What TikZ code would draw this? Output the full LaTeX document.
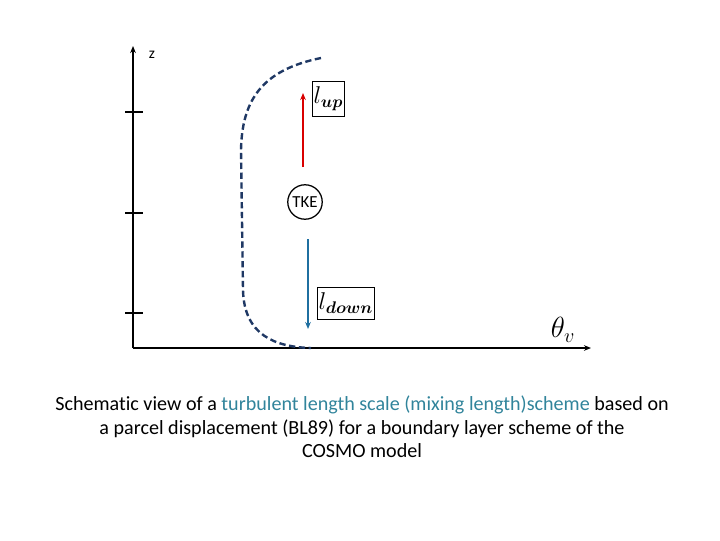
\documentclass[tikz,border=0pt]{standalone}
\usepackage{bm}
\usepackage{fontspec}
\setmainfont{Carlito}[Ligatures=NoCommon]
\usetikzlibrary{arrows.meta}

\definecolor{curveblue}{RGB}{31,56,100}
\definecolor{downblue}{RGB}{31,111,160}
\definecolor{captionblue}{RGB}{49,132,155}

\tikzset{
  axis/.style={line width=1.4pt, -{Stealth[length=5pt,width=4pt]}},
  tick/.style={line width=1.1pt},
  lenbox/.style={draw, thin, inner xsep=1pt, inner ysep=4pt, font=\fontsize{17pt}{17pt}\selectfont},
  caption/.style={font=\fontsize{14.3pt}{16.8pt}\selectfont, align=center}
}

\begin{document}
\begin{tikzpicture}[x=0.025cm, y=-0.025cm]
  \useasboundingbox (0,0) rectangle (720,540);

  % axes
  \coordinate (orig) at (133,348);
  \coordinate (ztop) at (133,46);
  \coordinate (xend) at (591,348);
  \draw[axis] (orig) -- (ztop);
  \draw[axis] (orig) -- (xend);
  \node[font=\fontsize{11pt}{11pt}\selectfont] (zlab) at (152,55) {z};
  \node[font=\fontsize{20pt}{20pt}\selectfont] (thetalab) at (563,330) {$\theta_v$};

  % ticks on z
  \foreach \ty in {112,213,313}
    \draw[tick] (125,\ty) -- (143,\ty);

  % profile
  \draw[curveblue, line width=1.7pt, dash pattern=on 4.5pt off 2.5pt]
    (321,58) .. controls (262,70) and (242,100) .. (241,150)
    -- (243,290) .. controls (244,335) and (275,347) .. (311,348);

  % TKE and the two length scales
  \node[draw, circle, line width=0.9pt, inner sep=0pt, minimum size=24.5pt, font=\large] (tke) at (305,202) {TKE};
  \node[lenbox, anchor=west] (lup) at (312,99) {$l_{\bm{up}}$};
  \node[lenbox, anchor=west] (ldown) at (317,303) {$l_{\bm{down}}$};
  \coordinate (upstart) at (303,167);
  \coordinate (upend) at (303,93);
  \coordinate (downstart) at (308,239);
  \coordinate (downend) at (308,329);
  \draw[red!85!black, line width=1.2pt, -{Stealth[length=5pt,width=4pt]}] (upstart) -- (upend);
  \draw[downblue, line width=1.2pt, -{Stealth[length=5pt,width=4pt]}] (downstart) -- (downend);

  % caption
  \node[caption] (cap) at (362,427) {Schematic view of a \textcolor{captionblue}{turbulent length scale (mixing length)scheme} based on\\
    a parcel displacement (BL89) for a boundary layer scheme of the\\
    COSMO model};
\end{tikzpicture}
\end{document}
